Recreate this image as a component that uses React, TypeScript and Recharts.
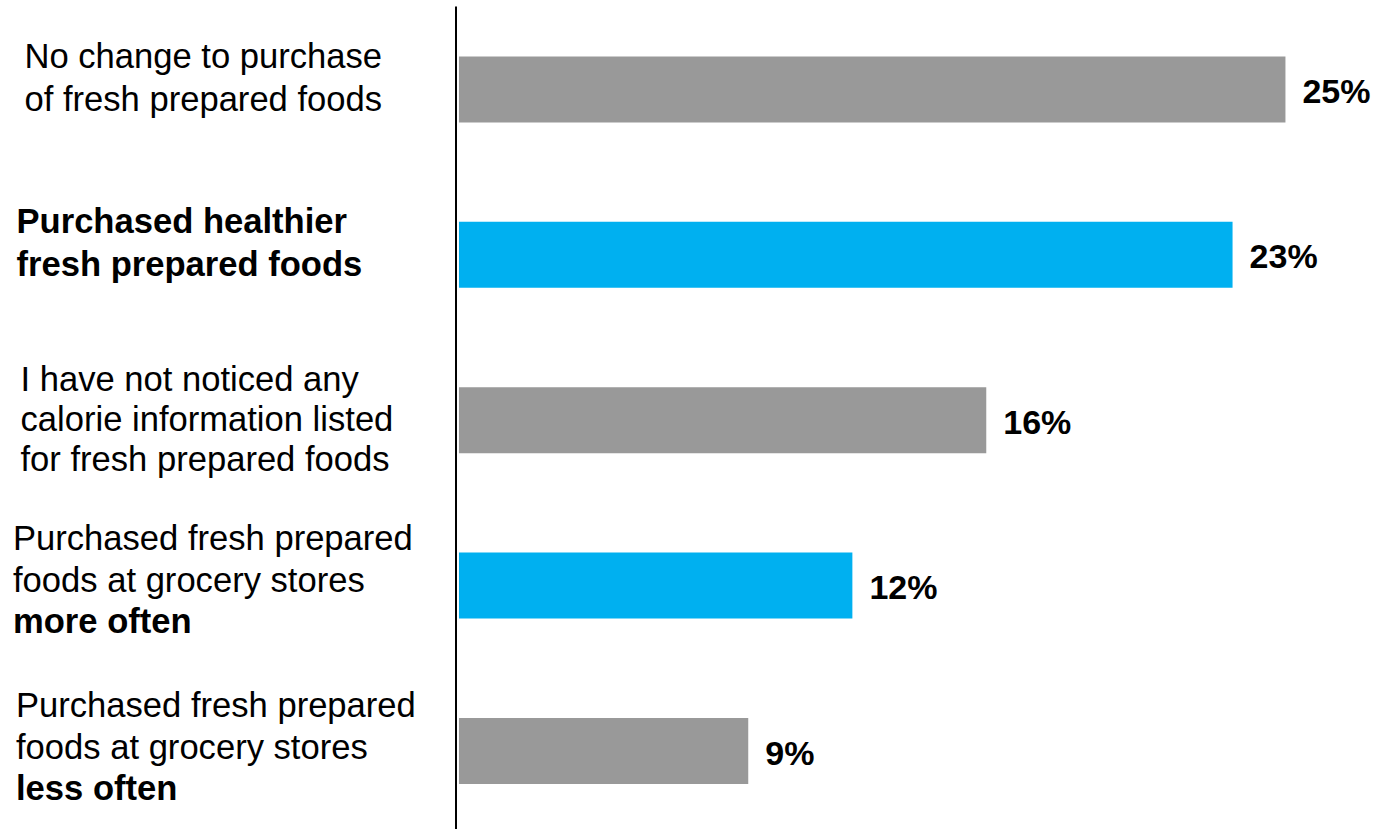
import React from 'react';
import { BarChart, Bar, XAxis, YAxis, Cell } from 'recharts';

const categories = [
  'No change to purchase of fresh prepared foods',
  'Purchased healthier fresh prepared foods',
  'I have not noticed any calorie information listed for fresh prepared foods',
  'Purchased fresh prepared foods at grocery stores more often',
  'Purchased fresh prepared foods at grocery stores less often',
];

// label lines: [text, bold]
const categoryLines: [string, boolean][][] = [
  [['No change to purchase', false], ['of fresh prepared foods', false]],
  [['Purchased healthier', true], ['fresh prepared foods', true]],
  [['I have not noticed any', false], ['calorie information listed', false], ['for fresh prepared foods', false]],
  [['Purchased fresh prepared', false], ['foods at grocery stores', false], ['more often', true]],
  [['Purchased fresh prepared', false], ['foods at grocery stores', false], ['less often', true]],
];

const values = [25, 23.4, 15.95, 11.9, 8.75];
const highlighted = [false, true, false, true, false];

const GRAY = '#999999';
const BLUE = '#00B0F0';
const FONT = '"Liberation Sans", Arial, Helvetica, sans-serif';

// layout constants for the category labels
const labelX = [24.5, 16.5, 20.5, 13, 16];
const firstBaseline = [-21, -22, -28.5, -35, -33.5];
const lineGap = [43, 43, 40, 41.5, 41.5];

const data = categories.map((name, i) => ({ name, value: values[i], hl: highlighted[i] }));

const CategoryTick = (props: any) => {
  const { y, index } = props;
  const lines = categoryLines[index] || [];
  return (
    <text fontFamily={FONT} fontSize={34.6} fill="#000">
      {lines.map(([t, b], k) => (
        <tspan key={k} x={labelX[index]} y={y + firstBaseline[index] + k * lineGap[index]} fontWeight={b ? 700 : 400}>
          {t}
        </tspan>
      ))}
    </text>
  );
};

const ValueLabel = (props: any) => {
  const { x, y, width, height, value } = props;
  return (
    <text x={x + width + 17} y={y + height / 2 + 13.5} fontFamily={FONT} fontSize={34} fontWeight={700} fill="#000">
      {Math.round(value)}%
    </text>
  );
};

export default function App() {
  return (
    <div style={{ position: 'absolute', left: 0, top: 0, width: 1376, height: 829, overflow: 'hidden', background: '#fff' }}>
      <BarChart
        width={1376}
        height={840}
        data={data}
        layout="vertical"
        margin={{ top: 6.4, right: 7.9, bottom: 6.6, left: 0 }}
      >
        <XAxis type="number" domain={[-0.09, 27.5]} allowDataOverflow hide />
        <YAxis
          type="category"
          dataKey="name"
          width={456}
          axisLine={{ stroke: '#000', strokeWidth: 2 }}
          tickLine={false}
          tick={<CategoryTick />}
          interval={0}
        />
        <Bar dataKey="value" barSize={66} isAnimationActive={false} label={<ValueLabel />}>
          {data.map((d, i) => (
            <Cell key={i} fill={d.hl ? BLUE : GRAY} />
          ))}
        </Bar>
      </BarChart>
    </div>
  );
}
